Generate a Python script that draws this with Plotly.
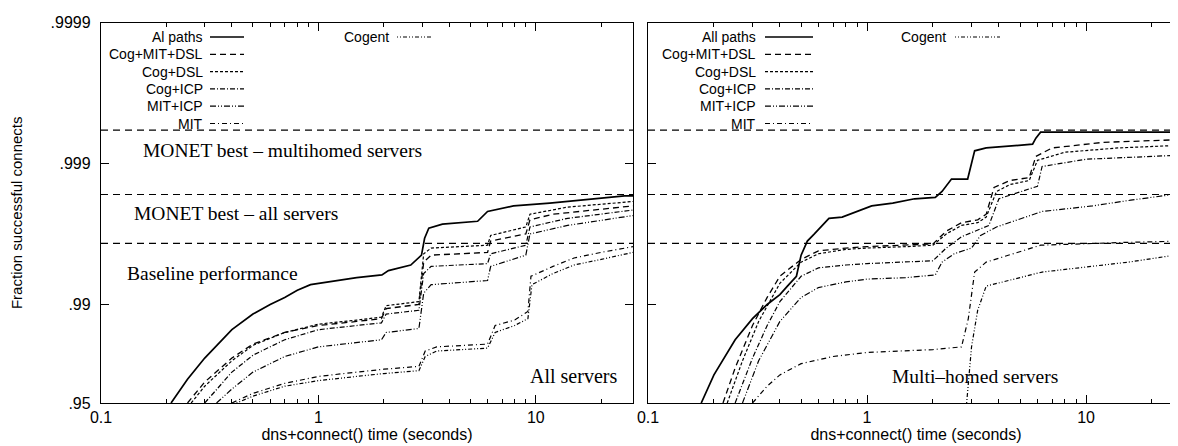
import numpy as np
import plotly.graph_objects as go

W, H = 1178, 446

# ---------------- data ----------------
series_names = ["All paths", "Cog+MIT+DSL", "Cog+DSL", "Cog+ICP", "MIT+ICP", "MIT", "Cogent"]
left_legend_names = ["Al paths", "Cog+MIT+DSL", "Cog+DSL", "Cog+ICP", "MIT+ICP", "MIT", "Cogent"]
panel_titles = ["All servers", "Multi\u2013homed servers"]

y_tick_values = [0.95, 0.99, 0.999, 0.9999]
y_tick_labels = [".95", ".99", ".999", ".9999"]
x_tick_values = [0.1, 1, 10]
x_tick_labels = ["0.1", "1", "10"]
x_minor_values = [0.2, 0.3, 0.4, 0.5, 0.6, 0.7, 0.8, 0.9, 2, 3, 4, 5, 6, 7, 8, 9, 20]

reference_names = ["MONET best \u2013 multihomed servers", "MONET best \u2013 all servers", "Baseline performance"]
reference_levels = [0.99942, 0.99834, 0.99631]

# ---- left panel: all servers ----
L_all_t = [0.21, 0.25, 0.30, 0.35, 0.40, 0.50, 0.60, 0.70, 0.80, 0.92, 1.2, 1.5, 1.96, 2.10, 2.66, 2.98, 3.08, 3.22, 3.72, 5.4, 6.0, 7.9, 11.6, 25.6, 28]
L_all_f = [.9500, .9661, .9760, .9814, .9849, .9883, .9900, .99109, .99206, .99276, .99324, .99354, .99383, .99425, .99475, .99553, .99661, .99712, .99731, .99743, .99781, .99800, .99809, .99830, .99830]

L_cmd_t = [0.25, 0.30, 0.40, 0.50, 0.70, 1.0, 1.5, 1.95, 2.05, 2.9, 3.05, 3.3, 6.0, 6.2, 9.0, 9.4, 12, 28]
L_cmd_f = [.9500, .9645, .9760, .9809, .9842, .9859, .9868, .9874, .9893, .9900, .99499, .99553, .99573, .99645, .99684, .99749, .99771, .99800]

L_cd_t = [0.26, 0.30, 0.40, 0.50, 0.70, 1.0, 1.5, 1.95, 2.05, 2.9, 3.05, 3.3, 6.0, 6.2, 9.0, 9.4, 14, 28]
L_cd_f = [.9500, .9620, .9749, .9805, .9842, .9862, .9871, .9877, .9898, .99045, .99563, .99602, .99620, .99676, .99718, .99771, .99796, .99814]

L_ci_t = [0.30, 0.35, 0.40, 0.50, 0.70, 1.0, 1.5, 1.95, 2.05, 2.9, 3.05, 3.3, 6.0, 6.2, 9.0, 9.4, 14, 28]
L_ci_f = [.9500, .9620, .9698, .9771, .9822, .9849, .9859, .9865, .9883, .9890, .99397, .99463, .99487, .99563, .99620, .99718, .99755, .99786]

L_mi_t = [0.34, 0.40, 0.50, 0.70, 1.0, 1.5, 1.95, 2.05, 2.9, 3.05, 3.3, 6.0, 6.2, 9.0, 9.4, 14, 28]
L_mi_f = [.9500, .9602, .9698, .9766, .9800, .9814, .9822, .9842, .9852, .99168, .99276, .99324, .99463, .99553, .99684, .99725, .99766]

L_mit_t = [0.40, 0.50, 0.70, 1.0, 1.5, 2.0, 2.9, 3.1, 3.5, 6.0, 6.5, 8.0, 9.2, 9.5, 12, 15, 20, 28]
L_mit_f = [.9500, .9573, .9637, .9676, .9698, .9712, .9725, .9786, .9800, .9809, .9859, .9871, .9888, .99369, .99463, .99532, .99573, .99611]

L_cog_t = [0.42, 0.50, 0.70, 1.0, 1.5, 2.0, 2.9, 3.1, 3.5, 6.0, 6.5, 8.0, 9.2, 9.6, 12, 15, 20, 28]
L_cog_f = [.9500, .9553, .9620, .9653, .9676, .9691, .9705, .9766, .9786, .9796, .9842, .9859, .9874, .99276, .99397, .99475, .99521, .99573]

# ---- right panel: multi-homed servers ----
R_all_t = [0.175, 0.20, 0.25, 0.30, 0.35, 0.40, 0.433, 0.476, 0.50, 0.534, 0.575, 0.67, 0.77, 1.05, 1.31, 1.65, 2.05, 2.2, 2.43, 2.88, 3.1, 3.5, 5.7, 5.9, 6.2, 28]
R_all_f = [.9500, .9684, .9822, .9874, .9900, .99149, .99259, .99369, .99553, .99645, .99684, .99755, .99760, .99800, .99809, .99822, .99826, .99842, .99871, .99871, .999187, .999224, .99927, .999339, .99940, .99940]

R_cmd_t = [0.22, 0.25, 0.30, 0.35, 0.40, 0.50, 0.60, 0.80, 1.0, 1.5, 2.0, 2.3, 2.7, 3.2, 3.5, 3.8, 4.5, 5.5, 5.9, 7, 12, 28]
R_cmd_f = [.9500, .9718, .9859, .99109, .99369, .99521, .99583, .99602, .99611, .99620, .99628, .99698, .99737, .99749, .99771, .99852, .99868, .99874, .999109, .999224, .999292, .999324]

R_cd_t = [0.23, 0.27, 0.32, 0.40, 0.50, 0.60, 0.80, 1.0, 1.5, 2.0, 2.3, 2.7, 3.2, 3.5, 3.9, 4.5, 5.5, 6.0, 8, 14, 28]
R_cd_f = [.9500, .9749, .9868, .99292, .99499, .99563, .99593, .99602, .99611, .99620, .99684, .99725, .99737, .99760, .99842, .99859, .99868, .99905, .999168, .999224, .999259]

R_ci_t = [0.25, 0.30, 0.35, 0.40, 0.50, 0.60, 0.80, 1.0, 2.0, 2.3, 2.7, 3.1, 3.6, 4.0, 5.0, 6.0, 6.3, 10, 28]
R_ci_f = [.9500, .9760, .9859, .99045, .99369, .99450, .99475, .99487, .99510, .99602, .99669, .99698, .99725, .99822, .99842, .99855, .99895, .999067, .999129]

R_mi_t = [0.27, 0.32, 0.40, 0.50, 0.60, 0.80, 1.0, 1.5, 2.05, 2.2, 2.5, 3.0, 3.3, 3.9, 6.3, 10.7, 16, 28]
R_mi_f = [.9500, .9749, .9868, .99109, .99241, .99308, .99339, .99354, .99383, .99499, .99563, .99602, .99676, .99718, .99781, .99800, .99818, .99838]

R_mit_t = [0.30, 0.35, 0.40, 0.50, 0.70, 1.0, 2.0, 2.7, 2.9, 3.1, 3.5, 6.2, 15, 28]
R_mit_f = [.9500, .9620, .9684, .9737, .9766, .9781, .9791, .9800, .9874, .99411, .99499, .99620, .99637, .99645]

R_cog_t = [2.85, 3.0, 3.2, 3.5, 6.3, 15.6, 28]
R_cog_f = [.9500, .9800, .9890, .99259, .99411, .99499, .99563]

left_series = [(L_all_t, L_all_f), (L_cmd_t, L_cmd_f), (L_cd_t, L_cd_f), (L_ci_t, L_ci_f),
               (L_mi_t, L_mi_f), (L_mit_t, L_mit_f), (L_cog_t, L_cog_f)]
right_series = [(R_all_t, R_all_f), (R_cmd_t, R_cmd_f), (R_cd_t, R_cd_f), (R_ci_t, R_ci_f),
                (R_mi_t, R_mi_f), (R_mit_t, R_mit_f), (R_cog_t, R_cog_f)]

# ---------------- styling ----------------
dashes = ["solid", "6px,4px", "3px,2px", "5px,2px,1px,2px", "6px,2px,1px,2px,1px,2px",
          "5px,3px,1px,3px", "1px,2px,1px,2px,4px,2px"]
widths = [1.7, 1.3, 1.2, 1.2, 1.2, 1.2, 1.2]
ref_dash = "7px,5px"
X_MAX = 28

SANS = "Liberation Sans, Arial, sans-serif"
SERIF = "Liberation Serif, Times New Roman, serif"

left_px = (93, 625)
right_px = (640, 1176)
top_px, bottom_px = 14.5, 395


def px_to_paper_x(px):
    return px / W


def py_to_paper_y(py):
    return 1 - py / H


fig = go.Figure()

for panel, series in enumerate([left_series, right_series]):
    xa = "x" if panel == 0 else "x2"
    ya = "y" if panel == 0 else "y2"
    for lvl, rname in zip(reference_levels, reference_names):
        fig.add_trace(go.Scatter(x=[0.1, X_MAX], y=[1 - lvl, 1 - lvl], mode="lines",
                                 line=dict(color="black", width=1.1, dash=ref_dash),
                                 xaxis=xa, yaxis=ya, showlegend=False, name=rname,
                                 hoverinfo="skip"))
    for i, (t, f) in enumerate(series):
        fig.add_trace(go.Scatter(x=t, y=1 - np.array(f), mode="lines",
                                 line=dict(color="black", width=widths[i], dash=dashes[i]),
                                 xaxis=xa, yaxis=ya, showlegend=False,
                                 name=series_names[i]))

y_fail_ticks = [round(1 - v, 6) for v in y_tick_values]

common_x = dict(type="log", range=[-1, np.log10(X_MAX)], tickmode="array",
                tickvals=x_tick_values, ticktext=x_tick_labels,
                ticks="inside", ticklen=8, tickwidth=1, tickcolor="black",
                showline=True, linecolor="black", linewidth=1.3, mirror="ticks",
                showgrid=False, zeroline=False,
                tickfont=dict(family=SANS, size=16, color="black"),
                minor=dict(tickvals=x_minor_values, ticks="inside", ticklen=4,
                           tickcolor="black", showgrid=False),
                title=dict(text="dns+connect() time (seconds)",
                           font=dict(family=SANS, size=16, color="black"), standoff=0),
                automargin=False)

common_y = dict(type="log", range=[np.log10(0.05), -4], tickmode="array",
                tickvals=y_fail_ticks, ticktext=y_tick_labels,
                ticks="inside", ticklen=8, tickwidth=1, tickcolor="black",
                showline=True, linecolor="black", linewidth=1.3, mirror="ticks",
                showgrid=False, zeroline=False,
                tickfont=dict(family=SANS, size=16, color="black"),
                automargin=False)

ydom = [py_to_paper_y(bottom_px), py_to_paper_y(top_px)]

fig.update_layout(
    width=W, height=H,
    margin=dict(l=0, r=0, t=0, b=0),
    paper_bgcolor="white", plot_bgcolor="white",
    showlegend=False,
    xaxis=dict(common_x, domain=[px_to_paper_x(left_px[0]), px_to_paper_x(left_px[1])], anchor="y"),
    xaxis2=dict(common_x, domain=[px_to_paper_x(right_px[0]), px_to_paper_x(right_px[1])], anchor="y2"),
    yaxis=dict(common_y, domain=ydom, anchor="x", ticklabelstandoff=6,
               title=dict(text="Fraction successful connects",
                          font=dict(family=SANS, size=15, color="black"), standoff=26)),
    yaxis2=dict(common_y, domain=ydom, anchor="x2", showticklabels=False),
)

annots = []
ref_label_pos = [(133, 142), (124, 205), (117, 265)]  # left edge x, center y (px)
for (lx, cy), txt in zip(ref_label_pos, reference_names):
    annots.append(dict(text=txt, x=px_to_paper_x(lx), y=py_to_paper_y(cy), xref="paper", yref="paper",
                       xanchor="left", yanchor="middle", showarrow=False,
                       font=dict(family=SERIF, size=19.5, color="black")))

annots.append(dict(text=panel_titles[0], x=px_to_paper_x(611), y=py_to_paper_y(368), xref="paper", yref="paper",
                   xanchor="right", yanchor="middle", showarrow=False,
                   font=dict(family=SERIF, size=20, color="black")))
annots.append(dict(text=panel_titles[1], x=px_to_paper_x(1052), y=py_to_paper_y(368), xref="paper", yref="paper",
                   xanchor="right", yanchor="middle", showarrow=False,
                   font=dict(family=SERIF, size=19.5, color="black")))

shapes = []
legend_cfg = [
    (left_legend_names, 197, 202, 236, 383, 389, 425),
    (series_names, 750, 757, 805, 940, 947, 992),
]
row_y0, row_dy = 29, 17.3
for names, tx, sx0, sx1, ctx, csx0, csx1 in legend_cfg:
    for i, nm in enumerate(names):
        if i < 6:
            ry = row_y0 + i * row_dy
            x_text, x0, x1 = tx, sx0, sx1
        else:
            ry = row_y0
            x_text, x0, x1 = ctx, csx0, csx1
        annots.append(dict(text=nm, x=px_to_paper_x(x_text), y=py_to_paper_y(ry), xref="paper", yref="paper",
                           xanchor="right", yanchor="middle", showarrow=False,
                           font=dict(family=SANS, size=14, color="black")))
        shapes.append(dict(type="line", xref="paper", yref="paper",
                           x0=px_to_paper_x(x0), x1=px_to_paper_x(x1),
                           y0=py_to_paper_y(ry), y1=py_to_paper_y(ry),
                           line=dict(color="black", width=widths[i], dash=dashes[i])))

fig.update_layout(annotations=annots, shapes=shapes)

fig.write_html("out.html")
